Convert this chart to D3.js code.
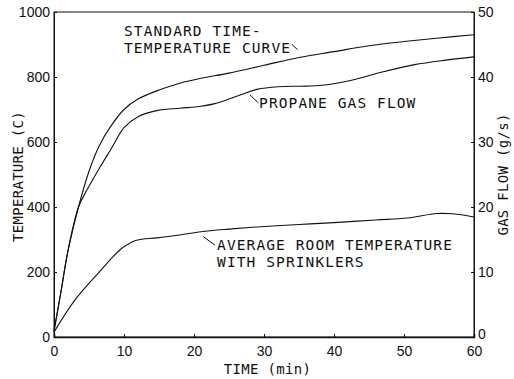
<!DOCTYPE html>
<html>
<head>
<meta charset="utf-8">
<script src="https://cdn.jsdelivr.net/npm/d3@7"></script>
<style>
  body { margin: 0; background: #fff; }
  svg { display: block; }
  .tick text { font-family: "Liberation Sans", sans-serif; font-size: 14px; fill: #111; }
  .note { font-family: "DejaVu Sans Mono", monospace; font-size: 14.5px; letter-spacing: 1.1px; fill: #111; }
  .title { font-family: "DejaVu Sans Mono", monospace; font-size: 14px; letter-spacing: 0.3px; fill: #111; }
</style>
</head>
<body>
<svg id="chart" width="514" height="379"></svg>
<script>
// values (time in min)
const stdTime = [0, 1, 2, 3.5, 5, 6.5, 8, 10, 12, 15, 18, 21, 25, 30, 35, 40, 45, 50, 55, 60];
const stdTemp = [20, 140, 265, 400, 510, 590, 645, 700, 732, 760, 781, 796, 812, 836, 860, 878, 896, 909, 920, 930];

const gasTime = [0, 1, 2, 3.5, 4.7, 6.5, 8.2, 10, 12, 15, 18, 21, 23, 25, 27, 29, 32, 36, 39, 42.5, 47, 51.5, 56, 60];
const gasFlow = [0.8, 7, 13.3, 20, 22.6, 26, 29, 32.2, 33.9, 34.9, 35.2, 35.5, 35.9, 36.6, 37.4, 38.1, 38.5, 38.6, 38.8, 39.5, 40.8, 41.9, 42.6, 43.1];

const roomTime = [0, 3, 6.3, 9.7, 11.8, 14.7, 18, 21, 25, 30, 35, 40, 46, 50.5, 54.7, 57, 60];
const roomTemp = [15, 114, 196, 273, 298, 305, 314, 324, 332, 340, 346, 352, 360, 366, 380, 379, 369];

const timeTicks = [0, 10, 20, 30, 40, 50, 60];
const tempTicks = [0, 200, 400, 600, 800, 1000];
const flowTicks = [0, 10, 20, 30, 40, 50];

// annotations: [t, value] in temperature units
const notes = [
    {lines: ["STANDARD TIME-", "TEMPERATURE CURVE"], t: 10, v: 925, leader: [[34, 900], [34.8, 884]]},
    {lines: ["PROPANE GAS FLOW"], t: 29.3, v: 705, leader: [[28, 745], [29.2, 720]]},
    {lines: ["AVERAGE ROOM TEMPERATURE", "WITH SPRINKLERS"], t: 23.3, v: 267, leader: [[21.3, 309], [23, 283]]},
];

const svg = d3.select("#chart");
const m = {left: 54, right: 40, top: 12, bottom: 42};
const W = 514, H = 379;

const x = d3.scaleLinear().domain([0, 60]).range([m.left, W - m.right]);
const y = d3.scaleLinear().domain([0, 1000]).range([H - m.bottom, m.top]);
const yGas = d3.scaleLinear().domain([0, 50]).range([H - m.bottom, m.top]);

// frame
svg.append("rect")
    .attr("x", x(0)).attr("y", y(1000))
    .attr("width", x(60) - x(0)).attr("height", y(0) - y(1000))
    .attr("fill", "none").attr("stroke", "#111").attr("stroke-width", 1);

const xAxis = d3.axisBottom(x).tickValues(timeTicks).tickSize(-3).tickPadding(9);
const yAxis = d3.axisLeft(y).tickValues(tempTicks).tickSize(-3).tickPadding(4)
    .tickFormat(d3.format("d"));
const yAxisR = d3.axisRight(yGas).tickValues(flowTicks).tickSize(-3).tickPadding(4);

const axes = [];
for (const [axis, tr, sw] of [
    [xAxis, `translate(0,${y(0)})`, 1.6],
    [yAxis, `translate(${x(0)},0)`, 1],
    [yAxisR, `translate(${x(60)},0)`, 1],
]) {
    const g = svg.append("g").attr("transform", tr).call(axis);
    g.select(".domain").attr("stroke", "#111").attr("stroke-width", sw);
    g.selectAll(".tick line").attr("stroke", "#111");
    axes.push(g);
}
svg.selectAll(".tick text").attr("font-family", null).attr("font-size", null);
// right-hand "0" sits a little above the corner, as in the scan
axes[2].selectAll(".tick text").filter(d => d === 0).attr("dy", "0.1em");

const line = d3.line().curve(d3.curveCatmullRom.alpha(0.5));

function drawCurve(ts, vs, ys) {
    svg.append("path")
        .datum(ts.map((t, i) => [x(t), ys(vs[i])]))
        .attr("d", line)
        .attr("fill", "none")
        .attr("stroke", "#111")
        .attr("stroke-width", 1.1);
}
drawCurve(stdTime, stdTemp, y);
drawCurve(gasTime, gasFlow, yGas);
drawCurve(roomTime, roomTemp, y);

// text notes + leaders
for (const n of notes) {
    n.lines.forEach((s, i) => {
        svg.append("text").attr("class", "note")
            .attr("x", x(n.t)).attr("y", y(n.v) + i * 16.8)
            .text(s);
    });
    svg.append("line")
        .attr("x1", x(n.leader[0][0])).attr("y1", y(n.leader[0][1]))
        .attr("x2", x(n.leader[1][0])).attr("y2", y(n.leader[1][1]))
        .attr("stroke", "#111").attr("stroke-width", 1);
}

// axis titles
svg.append("text").attr("class", "title")
    .attr("x", x(30.5)).attr("y", 374)
    .attr("text-anchor", "middle")
    .text("TIME (min)");

svg.append("text").attr("class", "title")
    .attr("transform", `translate(23,${(y(0) + y(1000)) / 2 + 2}) rotate(-90)`)
    .attr("text-anchor", "middle")
    .text("TEMPERATURE (C)");

svg.append("text").attr("class", "title")
    .attr("transform", `translate(508,${(y(0) + y(1000)) / 2}) rotate(-90)`)
    .attr("text-anchor", "middle")
    .text("GAS FLOW (g/s)");
</script>
</body>
</html>
